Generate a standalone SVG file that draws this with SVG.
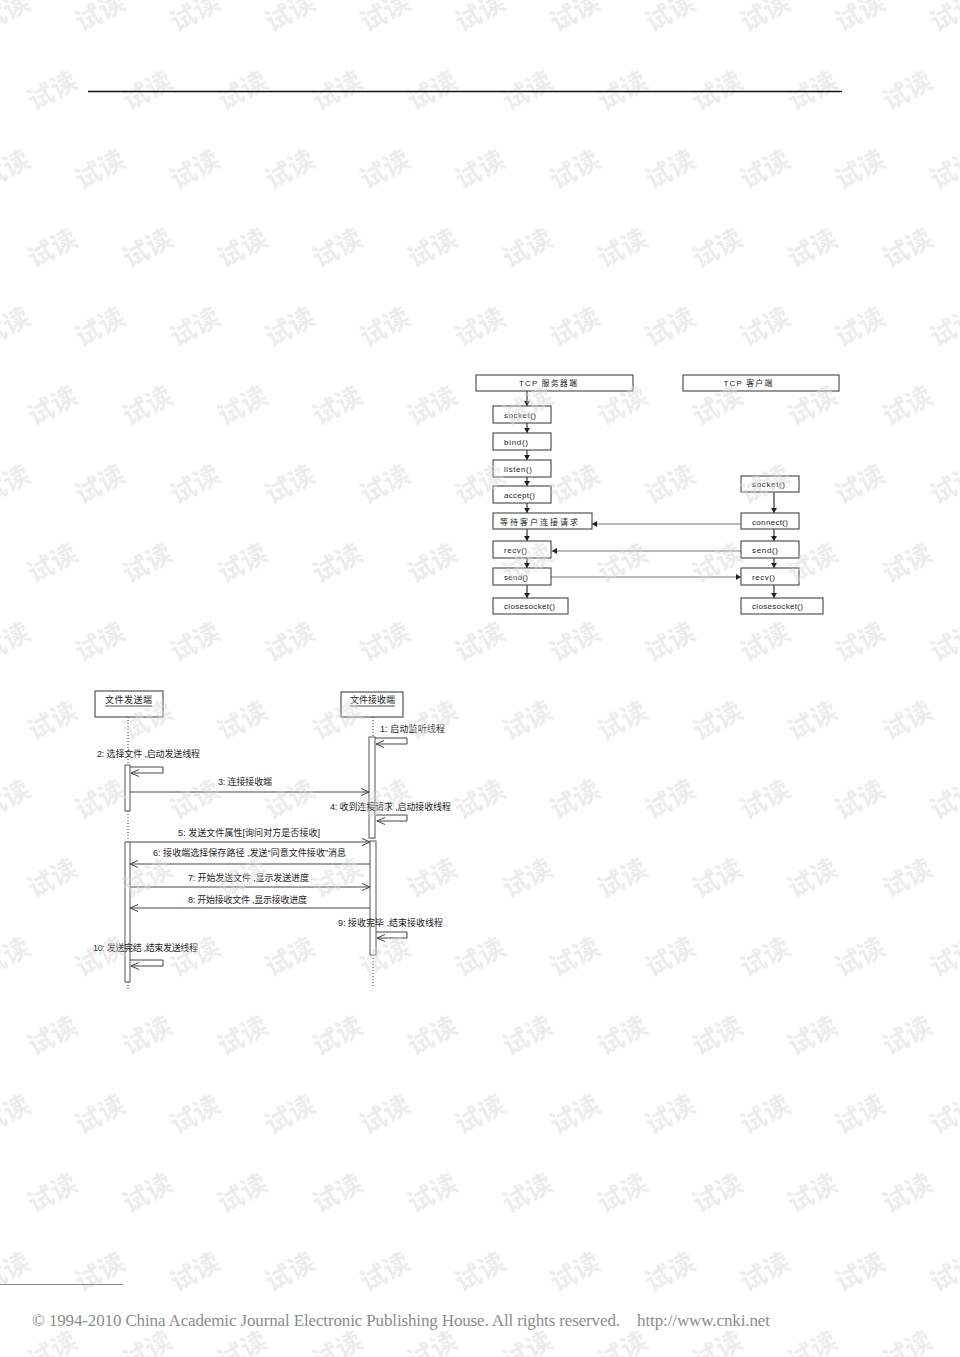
<svg xmlns="http://www.w3.org/2000/svg" width="960" height="1357" viewBox="0 0 960 1357">
<style>
.wm{font-family:"Noto Sans CJK SC","Noto Sans",sans-serif;font-weight:bold;font-size:26px;fill:#d8d8d8;text-anchor:middle}
.box{fill:#fff;stroke:#444;stroke-width:1.1}
.t{font-family:"Liberation Sans","Noto Sans CJK SC",sans-serif;font-size:8px;fill:#222}
.c{font-family:"Liberation Sans","Noto Sans CJK SC",sans-serif;font-size:9px;fill:#222}
.v{stroke:#222;stroke-width:1.1;fill:none}
.h{stroke:#777;stroke-width:1;fill:none}
.msg{stroke:#444;stroke-width:1;fill:none}
.life{stroke:#333;stroke-width:1;stroke-dasharray:1 2;fill:none}
.bar{fill:#fff;stroke:#555;stroke-width:1}
.foot{font-family:"Liberation Serif",serif;font-size:17px;fill:#8c8c8c}
</style>
<defs>
<marker id="fa" markerWidth="6" markerHeight="6" refX="5" refY="3" orient="auto" markerUnits="userSpaceOnUse">
<path d="M0,0 L5,3 L0,6 Z" fill="#222"/>
</marker>
<marker id="oa" markerWidth="10" markerHeight="8" refX="8" refY="4" orient="auto" markerUnits="userSpaceOnUse">
<path d="M0,0.5 L8,4 L0,7.5" fill="none" stroke="#444" stroke-width="1"/>
</marker>
<pattern id="wmp" patternUnits="userSpaceOnUse" x="0" y="-38" width="95" height="157.5">
<text class="wm" transform="translate(5,50) rotate(-28)" dy="9">试读</text>
<text class="wm" transform="translate(100,50) rotate(-28)" dy="9">试读</text>
<text class="wm" transform="translate(52.5,128.75) rotate(-28)" dy="9">试读</text>
</pattern>
</defs>
<rect width="960" height="1357" fill="#fff"/>

<g id="tcp-connectors">
<line class="v" x1="527" y1="391" x2="527" y2="406" marker-end="url(#fa)"/>
<line class="v" x1="527" y1="423" x2="527" y2="433" marker-end="url(#fa)"/>
<line class="v" x1="527" y1="450" x2="527" y2="460" marker-end="url(#fa)"/>
<line class="v" x1="527" y1="477" x2="527" y2="486" marker-end="url(#fa)"/>
<line class="v" x1="527" y1="503" x2="527" y2="513" marker-end="url(#fa)"/>
<line class="v" x1="527" y1="529" x2="527" y2="541" marker-end="url(#fa)"/>
<line class="v" x1="527" y1="558" x2="527" y2="568" marker-end="url(#fa)"/>
<line class="v" x1="527" y1="585" x2="527" y2="598" marker-end="url(#fa)"/>
<line class="v" x1="774" y1="492" x2="774" y2="513" marker-end="url(#fa)"/>
<line class="v" x1="774" y1="529" x2="774" y2="541" marker-end="url(#fa)"/>
<line class="v" x1="774" y1="558" x2="774" y2="568" marker-end="url(#fa)"/>
<line class="v" x1="774" y1="585" x2="774" y2="598" marker-end="url(#fa)"/>
<line class="h" x1="741" y1="524" x2="592" y2="524" marker-end="url(#fa)"/>
<line class="h" x1="741" y1="551" x2="552" y2="551" marker-end="url(#fa)"/>
<line class="h" x1="551" y1="577" x2="741" y2="577" marker-end="url(#fa)"/>
</g>

<g id="tcp-server-head"><rect class="box" x="476" y="375" width="157" height="16"/><text class="t" x="548" y="386" text-anchor="middle" textLength="58">TCP 服务器端</text></g>
<g id="tcp-client-head"><rect class="box" x="683" y="375" width="156" height="16"/><text class="t" x="748" y="386" text-anchor="middle" textLength="49">TCP 客户端</text></g>
<g id="s-socket"><rect class="box" x="493" y="406" width="58" height="17"/><text class="t" x="504" y="417.5" textLength="32">socket()</text></g>
<g id="s-bind"><rect class="box" x="493" y="433" width="58" height="17"/><text class="t" x="504" y="444.5" textLength="24">bind()</text></g>
<g id="s-listen"><rect class="box" x="493" y="460" width="58" height="17"/><text class="t" x="504" y="471.5" textLength="28">listen()</text></g>
<g id="s-accept"><rect class="box" x="493" y="486" width="58" height="17"/><text class="t" x="504" y="497.5" textLength="31">accept()</text></g>
<g id="s-wait"><rect class="box" x="493" y="513" width="99" height="16"/><text class="t" x="500" y="524.5" textLength="78">等待客户连接请求</text></g>
<g id="s-recv"><rect class="box" x="493" y="541" width="58" height="17"/><text class="t" x="504" y="552.5" textLength="23">recv()</text></g>
<g id="s-send"><rect class="box" x="493" y="568" width="58" height="17"/><text class="t" x="504" y="579.5" textLength="24">send()</text></g>
<g id="s-close"><rect class="box" x="493" y="598" width="75" height="16"/><text class="t" x="504" y="609" textLength="51">closesocket()</text></g>
<g id="c-socket"><rect class="box" x="741" y="476" width="58" height="16"/><text class="t" x="752" y="487" textLength="33">socket()</text></g>
<g id="c-connect"><rect class="box" x="741" y="513" width="58" height="16"/><text class="t" x="752" y="524.5" textLength="36">connect()</text></g>
<g id="c-send"><rect class="box" x="741" y="541" width="58" height="17"/><text class="t" x="752" y="552.5" textLength="26">send()</text></g>
<g id="c-recv"><rect class="box" x="741" y="568" width="58" height="17"/><text class="t" x="752" y="579.5" textLength="23">recv()</text></g>
<g id="c-close"><rect class="box" x="741" y="598" width="82" height="16"/><text class="t" x="752" y="609" textLength="51">closesocket()</text></g>

<g id="seq-sender"><rect class="box" x="95" y="691" width="68" height="26"/><text class="c" x="128.5" y="703" text-anchor="middle" textLength="47">文件发送端</text><line x1="105" y1="706" x2="152" y2="706" stroke="#222" stroke-width="0.8"/></g>
<g id="seq-receiver"><rect class="box" x="341" y="692" width="62" height="25"/><text class="c" x="372.5" y="703" text-anchor="middle" textLength="45">文件接收端</text><line x1="350" y1="706" x2="395" y2="706" stroke="#222" stroke-width="0.8"/></g>

<g id="seq-connectors">
<line class="life" x1="128" y1="717" x2="128" y2="765"/>
<line class="life" x1="128" y1="811" x2="128" y2="842"/>
<line class="life" x1="128" y1="982" x2="128" y2="990"/>
<line class="life" x1="373" y1="717" x2="373" y2="737"/>
<line class="life" x1="373" y1="838" x2="373" y2="841"/>
<line class="life" x1="373" y1="955" x2="373" y2="988"/>
<rect class="bar" x="125" y="765" width="5" height="46"/>
<rect class="bar" x="125" y="842" width="5" height="140"/>
<rect class="bar" x="369" y="737" width="6" height="101"/>
<rect class="bar" x="370" y="841" width="6" height="114"/>
<polyline class="msg" points="375,738 407,738 407,744 376,744" marker-end="url(#oa)"/>
<polyline class="msg" points="130,767 163,767 163,773 131,773" marker-end="url(#oa)"/>
<polyline class="msg" points="376,815 407,815 407,821 377,821" marker-end="url(#oa)"/>
<polyline class="msg" points="376,932 407,932 407,938 377,938" marker-end="url(#oa)"/>
<polyline class="msg" points="130,960 163,960 163,966 131,966" marker-end="url(#oa)"/>
<line class="msg" x1="130" y1="792" x2="369" y2="792" marker-end="url(#oa)"/>
<line class="msg" x1="130" y1="842" x2="370" y2="842" marker-end="url(#oa)"/>
<line class="msg" x1="370" y1="864" x2="130" y2="864" marker-end="url(#oa)"/>
<line class="msg" x1="130" y1="887" x2="370" y2="887" marker-end="url(#oa)"/>
<line class="msg" x1="370" y1="908" x2="130" y2="908" marker-end="url(#oa)"/>
</g>
<g id="seq-labels">
<text class="c" x="380" y="732" textLength="65">1: 启动监听线程</text>
<text class="c" x="97" y="757" textLength="103">2: 选择文件 ,启动发送线程</text>
<text class="c" x="218" y="785" textLength="54">3: 连接接收端</text>
<text class="c" x="330" y="810" textLength="121">4: 收到连接请求 ,启动接收线程</text>
<text class="c" x="178" y="836" textLength="142">5: 发送文件属性[询问对方是否接收]</text>
<text class="c" x="153" y="856" textLength="193">6: 接收端选择保存路径 ,发送“同意文件接收”消息</text>
<text class="c" x="188" y="881" textLength="121">7: 开始发送文件 ,显示发送进度</text>
<text class="c" x="188" y="903" textLength="119">8: 开始接收文件 ,显示接收进度</text>
<text class="c" x="338" y="926" textLength="105">9: 接收完毕 ,结束接收线程</text>
<text class="c" x="93" y="951" textLength="105">10: 发送完结 ,结束发送线程</text>
</g>
<rect id="watermark" width="960" height="1357" fill="url(#wmp)" opacity="0.5"/>

<line x1="88" y1="91.5" x2="842" y2="91.5" stroke="#111" stroke-width="1.5"/>
<g id="footer">
<line x1="0" y1="1284.5" x2="123" y2="1284.5" stroke="#888" stroke-width="1"/>
<text class="foot" x="32" y="1326" textLength="588">© 1994-2010 China Academic Journal Electronic Publishing House. All rights reserved.</text>
<text class="foot" x="637" y="1326" textLength="133">http://www.cnki.net</text>
</g>
</svg>
